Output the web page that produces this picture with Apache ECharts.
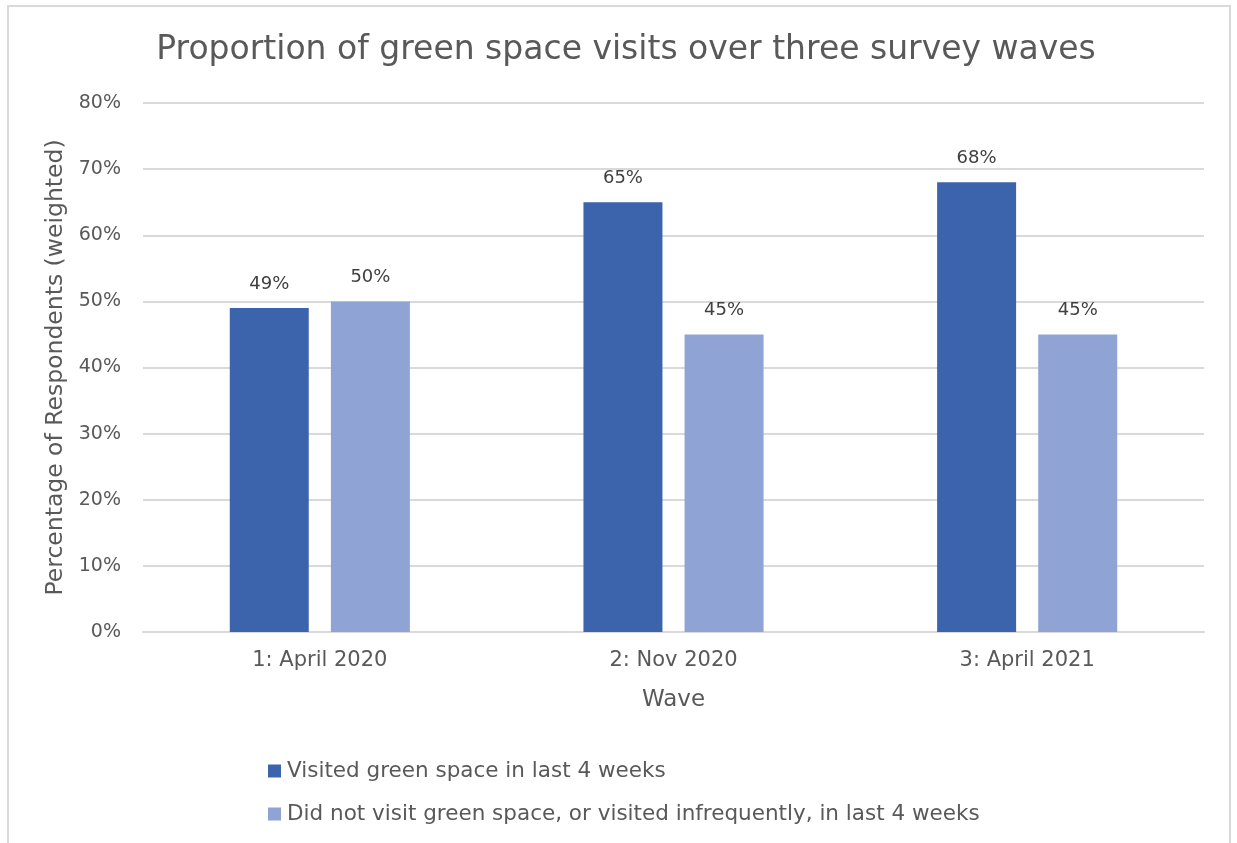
<!DOCTYPE html>
<html>
<head>
<meta charset="utf-8">
<script src="https://cdn.jsdelivr.net/npm/echarts@6/dist/echarts.min.js"></script>
<style>
  html, body { margin: 0; padding: 0; background: #fff; }
  #frame { position: absolute; left: 7px; top: 5px; width: 1224px; height: 860px; border: 2px solid #d9d9d9; box-sizing: border-box; }
  #chart { position: absolute; left: 0; top: 0; width: 1237px; height: 843px; }
</style>
</head>
<body>
<div id="frame"></div>
<div id="chart"></div>
<script>
const categories = ['1: April 2020', '2: Nov 2020', '3: April 2021'];
const visited = [49, 65, 68];
const notVisited = [50, 45, 45];
const seriesNames = [
  'Visited green space in last 4 weeks',
  'Did not visit green space, or visited infrequently, in last 4 weeks'
];
const yTicks = { min: 0, max: 80, interval: 10 };

const FONT = '"DejaVu Sans", "Noto Sans", sans-serif';
const TEXT = '#595959';

const chart = echarts.init(document.getElementById('chart'), null, { renderer: 'canvas' });

const labelStyle = {
  show: true,
  position: 'top',
  distance: 15,
  color: '#404040',
  fontFamily: FONT,
  fontSize: 18,
  formatter: p => p.value + '%'
};

chart.setOption({
  animation: false,
  backgroundColor: 'transparent',
  title: {
    text: 'Proportion of green space visits over three survey waves',
    left: 621,
    textAlign: 'center',
    top: 29,
    textStyle: { color: TEXT, fontFamily: FONT, fontSize: 33, fontWeight: 'normal' }
  },
  grid: { left: 143, right: 33, top: 103, bottom: 211, containLabel: false },
  legend: {
    orient: 'vertical',
    left: 263,
    top: 755,
    itemWidth: 13,
    itemHeight: 13,
    itemGap: 21,
    icon: 'rect',
    textStyle: { color: TEXT, fontFamily: FONT, fontSize: 21.5, padding: [0, 0, 0, 1] },
    data: seriesNames
  },
  xAxis: {
    type: 'category',
    data: categories,
    name: 'Wave',
    nameLocation: 'middle',
    nameGap: 57,
    nameTextStyle: { color: TEXT, fontFamily: FONT, fontSize: 23 },
    axisLine: { show: true, lineStyle: { color: '#d9d9d9', width: 2 } },
    axisTick: { show: false },
    axisLabel: { color: TEXT, fontFamily: FONT, fontSize: 21, margin: 18 }
  },
  yAxis: {
    type: 'value',
    min: yTicks.min,
    max: yTicks.max,
    interval: yTicks.interval,
    name: 'Percentage of Respondents (weighted)',
    nameLocation: 'middle',
    nameGap: 74,
    nameTextStyle: { color: TEXT, fontFamily: FONT, fontSize: 23.5 },
    axisLine: { show: false },
    axisTick: { show: false },
    axisLabel: { color: TEXT, fontFamily: FONT, fontSize: 19, margin: 22, formatter: '{value}%' },
    splitLine: { lineStyle: { color: '#d9d9d9', width: 2 } }
  },
  series: [
    {
      name: seriesNames[0],
      type: 'bar',
      data: visited,
      barWidth: 79,
      barGap: '28%',
      itemStyle: { color: '#3c64ad' },
      label: labelStyle
    },
    {
      name: seriesNames[1],
      type: 'bar',
      data: notVisited,
      barWidth: 79,
      itemStyle: { color: '#8fa4d4' },
      label: labelStyle
    }
  ]
});
</script>
</body>
</html>
